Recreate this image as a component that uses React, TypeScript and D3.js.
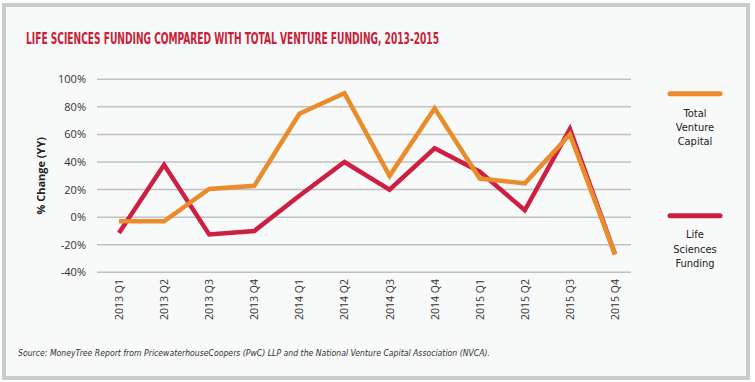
import React from "react";
import * as d3 from "d3";

const quarters = ["2013 Q1","2013 Q2","2013 Q3","2013 Q4","2014 Q1","2014 Q2","2014 Q3","2014 Q4","2015 Q1","2015 Q2","2015 Q3","2015 Q4"];
const totalVenture = [-3, -3, 20.5, 22.7, 75, 90, 30, 79, 28, 24.5, 60, -27];
const lifeSciences = [-11.5, 38, -12.5, -10, 15.5, 40, 20, 50, 33, 5, 64, -27];
const yTicks = [-40, -20, 0, 20, 40, 60, 80, 100];

const ORANGE = "#E98C2B";
const RED = "#CD1F42";
const TITLE_RED = "#C81E3A";

export default function App() {
  const W = 755, H = 382;
  const x = d3.scalePoint<string>().domain(quarters).range([119, 615]);
  const y = d3.scaleLinear().domain([-40, 100]).range([272.3, 79.3]);
  const line = d3.line<number>().x((_, i) => x(quarters[i]) as number).y(d => y(d));

  return (
    <svg width={W} height={H} style={{ position: "absolute", left: 0, top: 0 }}>
      <rect x={0} y={0} width={W} height={H} fill="#ffffff" />
      <rect x={4} y={5} width={744} height={373} fill="#f8f9f9" stroke="#c8cccb" strokeWidth={4} />
      <text x={26} y={44} fill={TITLE_RED} fontFamily="'DejaVu Sans Condensed', 'DejaVu Sans'" fontWeight="bold" fontSize={15} textLength={413} lengthAdjust="spacingAndGlyphs">
        LIFE SCIENCES FUNDING COMPARED WITH TOTAL VENTURE FUNDING, 2013-2015
      </text>
      {yTicks.map(t => (
        <g key={t}>
          <line x1={97} x2={631} y1={y(t)} y2={y(t)} stroke="#c0c0c0" strokeWidth={1.5} />
          <text x={86} y={y(t) + 4} textAnchor="end" fontFamily="'Open Sans', sans-serif" fontSize={11} fill="#333">{t}%</text>
        </g>
      ))}
      <text transform={`translate(45,${y(30)}) rotate(-90)`} textAnchor="middle" fontFamily="'Open Sans', sans-serif" fontWeight="bold" fontSize={11} fill="#222">% Change (YY)</text>
      {quarters.map(q => (
        <text key={q} transform={`translate(${(x(q) as number) + 4},279) rotate(-90)`} textAnchor="end" fontFamily="'Open Sans', sans-serif" fontSize={10.5} fill="#333">{q}</text>
      ))}
      <path d={line(lifeSciences) || ""} fill="none" stroke={RED} strokeWidth={4.5} strokeLinejoin="miter" />
      <path d={line(totalVenture) || ""} fill="none" stroke={ORANGE} strokeWidth={4.5} strokeLinejoin="miter" />
      <line x1={670} x2={720} y1={93.7} y2={93.7} stroke={ORANGE} strokeWidth={5} strokeLinecap="round" />
      {["Total", "Venture", "Capital"].map((s, i) => (
        <text key={s} x={695} y={117 + i * 14} textAnchor="middle" fontFamily="'DejaVu Sans Condensed', 'DejaVu Sans'" fontSize={11} fill="#222">{s}</text>
      ))}
      <line x1={670} x2={720} y1={215.7} y2={215.7} stroke={RED} strokeWidth={5} strokeLinecap="round" />
      {["Life", "Sciences", "Funding"].map((s, i) => (
        <text key={s} x={695} y={238 + i * 14.5} textAnchor="middle" fontFamily="'DejaVu Sans Condensed', 'DejaVu Sans'" fontSize={11} fill="#222">{s}</text>
      ))}
      <text x={18} y={356} fontFamily="'DejaVu Sans Condensed', 'DejaVu Sans'" fontStyle="italic" fontSize={8.5} fill="#333" textLength={472} lengthAdjust="spacingAndGlyphs">
        Source: MoneyTree Report from PricewaterhouseCoopers (PwC) LLP and the National Venture Capital Association (NVCA).
      </text>
    </svg>
  );
}
